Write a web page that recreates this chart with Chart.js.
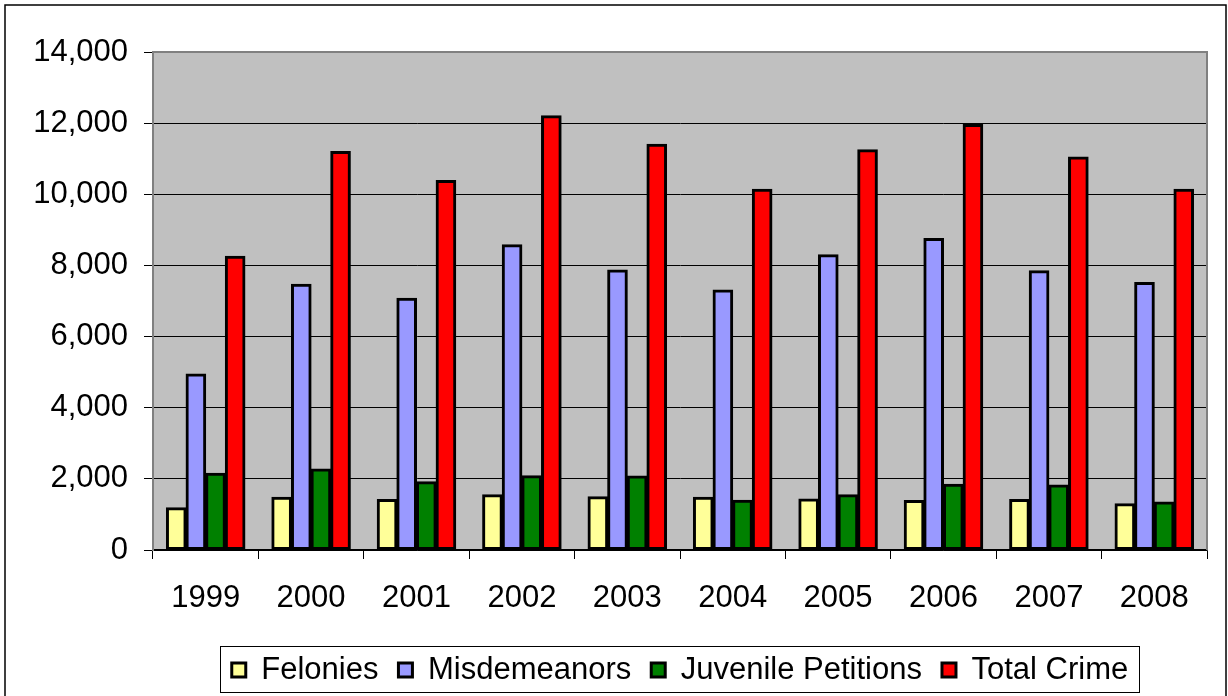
<!DOCTYPE html>
<html>
<head>
<meta charset="utf-8">
<script src="https://cdn.jsdelivr.net/npm/chart.js@4.4.1/dist/chart.umd.min.js"></script>
<style>
html,body{margin:0;padding:0;background:#fff;}
#wrap{width:1228px;height:696px;position:relative;}
</style>
</head>
<body>
<div id="wrap"><canvas id="c" width="1228" height="696"></canvas></div>
<script>
const years = ['1999','2000','2001','2002','2003','2004','2005','2006','2007','2008'];
const felonies = [1190, 1480, 1420, 1550, 1500, 1480, 1435, 1390, 1420, 1300];
const misdemeanors = [4950, 7470, 7080, 8580, 7870, 7310, 8300, 8760, 7850, 7520];
const juvenilePetitions = [2160, 2280, 1920, 2090, 2080, 1400, 1550, 1850, 1830, 1350];
const totalCrime = [8260, 11200, 10390, 12210, 11410, 10140, 11250, 11960, 11050, 10140];
const yTicks = [0, 2000, 4000, 6000, 8000, 10000, 12000, 14000];

const FONT = "'Liberation Sans', Arial, sans-serif";

const bgPlugin = {
  id: 'bg',
  beforeDraw(chart) {
    const ctx = chart.ctx, a = chart.chartArea;
    // centre the legend under the plot area
    const lg = chart.legend;
    if (lg && lg.left !== a.left) {
      const dx = ((a.left + a.right) - (lg.left + lg.right)) / 2;
      lg.left = a.left;
      lg.right = a.right;
      lg.width = a.right - a.left;
      (lg.legendHitBoxes || []).forEach(h => { h.left += dx; });
    }
    ctx.save();
    ctx.fillStyle = '#ffffff';
    ctx.fillRect(0, 0, chart.width, chart.height);
    ctx.strokeStyle = '#000000';
    ctx.lineWidth = 1.5;
    ctx.strokeRect(5, 5, 1221, 700);
    ctx.fillStyle = '#C0C0C0';
    ctx.fillRect(a.left, a.top, a.right - a.left, a.bottom - a.top);
    ctx.restore();
  },
  afterDatasetsDraw(chart) {
    const ctx = chart.ctx, a = chart.chartArea;
    ctx.save();
    ctx.strokeStyle = '#808080';
    ctx.lineWidth = 2;
    ctx.beginPath();
    ctx.moveTo(a.left, a.top);
    ctx.lineTo(a.right, a.top);
    ctx.lineTo(a.right, a.bottom);
    ctx.stroke();
    ctx.restore();
  },
  afterDraw(chart) {
    const lg = chart.legend;
    if (!lg || !lg.legendHitBoxes || !lg.legendHitBoxes.length) return;
    const hb = lg.legendHitBoxes;
    let l = Infinity, r = -Infinity, t = Infinity, b = -Infinity;
    hb.forEach(h => { l = Math.min(l, h.left); r = Math.max(r, h.left + h.width); t = Math.min(t, h.top); b = Math.max(b, h.top + h.height); });
    const ctx = chart.ctx;
    ctx.save();
    ctx.strokeStyle = '#000';
    ctx.lineWidth = 1;
    const x0 = Math.round(l - 12) + 0.5, y0 = Math.round(t - 9) + 0.5;
    const x1 = Math.round(r + 11) + 0.5, y1 = Math.round(b + 6) + 0.5;
    ctx.strokeRect(x0, y0, x1 - x0, y1 - y0);
    ctx.restore();
  }
};

new Chart(document.getElementById('c'), {
  type: 'bar',
  data: {
    labels: years,
    datasets: [
      { label: 'Felonies', data: felonies, backgroundColor: '#FFFF99' },
      { label: 'Misdemeanors', data: misdemeanors, backgroundColor: '#9999FF' },
      { label: 'Juvenile Petitions', data: juvenilePetitions, backgroundColor: '#008000' },
      { label: 'Total Crime', data: totalCrime, backgroundColor: '#FF0000' }
    ].map(d => Object.assign(d, { borderColor: '#000', borderWidth: 3, borderSkipped: false, categoryPercentage: 0.745, barPercentage: 1.0, inflateAmount: 0.5 }))
  },
  options: {
    responsive: false,
    animation: false,
    devicePixelRatio: 1,
    layout: { padding: { top: 52, right: 21, left: 0, bottom: 0.5 } },
    plugins: {
      tooltip: { enabled: false },
      legend: {
        position: 'bottom',
        labels: {
          font: { family: FONT, size: 31 },
          color: '#000',
          boxWidth: 14,
          boxHeight: 14,
          padding: 20,
          useBorderRadius: false
        }
      }
    },
    scales: {
      x: {
        grid: { display: true, drawOnChartArea: false, drawTicks: true, tickLength: 9, color: '#000', offset: true },
        border: { display: true, color: '#000', width: 1.5 },
        ticks: { font: { family: FONT, size: 31 }, color: '#000', padding: 21 },
        afterFit(s) { s.height = 84.5; }
      },
      y: {
        min: 0, max: 14000,
        afterBuildTicks(s) { s.ticks = yTicks.map(v => ({ value: v })); },
        grid: { color: '#000', lineWidth: 1, tickLength: 9, drawTicks: true },
        border: { display: true, color: '#808080', width: 2 },
        ticks: { font: { family: FONT, size: 31 }, color: '#000', padding: 16,
          callback: v => v.toLocaleString('en-US') },
        afterFit(s) { s.width = 153; }
      }
    }
  },
  plugins: [bgPlugin]
});
</script>
</body>
</html>
